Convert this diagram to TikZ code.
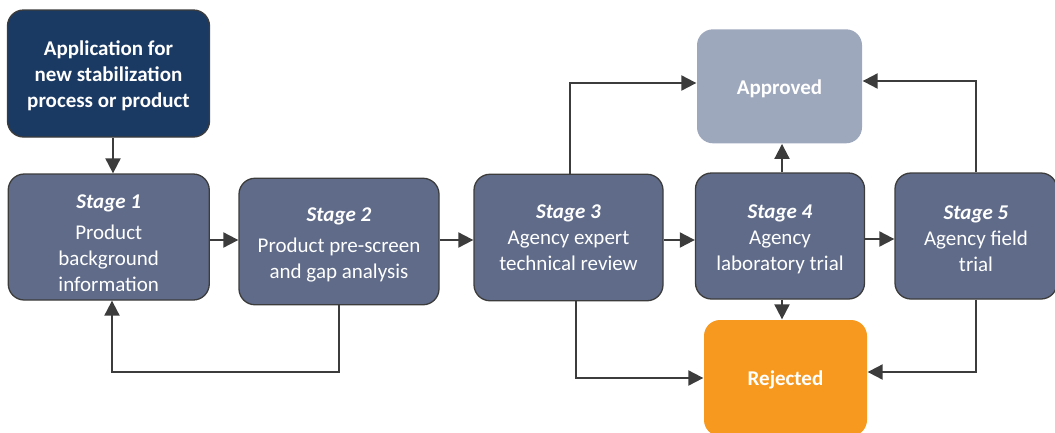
\documentclass[tikz,border=0pt]{standalone}
\usepackage{fontspec}
\setmainfont{Carlito}
\usetikzlibrary{arrows.meta}
\definecolor{navy}{HTML}{1B3A63}
\definecolor{slate}{HTML}{5F6B89}
\definecolor{appr}{HTML}{9EA8BD}
\definecolor{rej}{HTML}{F7991F}
\definecolor{edgec}{HTML}{3C3C3C}
\newcommand{\lift}[1]{\rule{0pt}{#1pt}}
\tikzset{
  box/.style={rectangle, rounded corners=16pt, draw=edgec, line width=1.3pt, fill=slate,
    text=white, align=center, inner sep=0pt, font=\fontsize{21}{26}\selectfont},
  endbox/.style={box, draw=none},
  arr/.style={draw=edgec, line width=2pt, -{Triangle[length=15pt,width=15pt]}},
  ln/.style={draw=edgec, line width=2pt}
}
\begin{document}
\begin{tikzpicture}[x=1pt,y=-1pt]
\useasboundingbox (0,0) rectangle (1055,432);
\node[box, fill=navy, minimum width=202pt, minimum height=127pt, font=\fontsize{21}{26}\selectfont\bfseries] (app) at (108.5,73.5)
  {\lift{19}Application for\\new stabilization\\process or product};
\node[box, minimum width=201pt, minimum height=126pt] (s1) at (108.75,237)
  {\lift{27}{\bfseries\itshape Stage 1}\\[5pt]Product\\background\\information};
\node[box, minimum width=200pt, minimum height=126.5pt] (s2) at (339,241.5)
  {\lift{20}{\bfseries\itshape Stage 2}\\[5pt]Product pre-screen\\and gap analysis};
\node[box, minimum width=189pt, minimum height=126.5pt] (s3) at (568.5,237.5)
  {{\bfseries\itshape Stage 3}\\Agency expert\\technical review};
\node[box, minimum width=169pt, minimum height=126pt] (s4) at (780,236)
  {\lift{20}{\bfseries\itshape Stage 4}\\Agency\\laboratory trial};
\node[box, minimum width=162pt, minimum height=126pt] (s5) at (976,236)
  {\lift{20}{\bfseries\itshape Stage 5}\\Agency field\\trial};
\node[endbox, fill=appr, minimum width=165pt, minimum height=114pt, font=\fontsize{21}{26}\selectfont\bfseries] (ap) at (779.5,86.3) {\lift{19}Approved};
\node[endbox, fill=rej, minimum width=163pt, minimum height=116pt, font=\fontsize{21}{26}\selectfont\bfseries] (rj) at (785.5,378) {\lift{19}Rejected};

\draw[arr] ([xshift=4.5pt]app.south) -- ([xshift=4.5pt]app.south |- s1.north);
\draw[arr] (s1.east |- 0,240) -- (s2.west |- 0,240);
\draw[arr] (s2.east |- 0,240) -- (s3.west |- 0,240);
\draw[arr] (s3.east |- 0,240) -- (s4.west |- 0,240);
\draw[arr] (s4.east |- 0,239) -- (s5.west |- 0,239);
\draw[arr] (s4.north -| 782,0) -- (ap.south -| 782,0);
\draw[arr] (s4.south -| 782,0) -- (rj.north -| 782,0);
\draw[arr] (s3.north -| 570,0) |- (ap.west |- 0,83);
\draw[arr] (s5.north) |- (ap.east |- 0,81);
\draw[arr] (s3.south -| 576,0) |- (rj.west |- 0,378);
\draw[arr] (s5.south) |- (rj.east |- 0,372);
\draw[arr] (s2.south) |- (112,372) -- (s1.south -| 112,0);
\end{tikzpicture}
\end{document}
